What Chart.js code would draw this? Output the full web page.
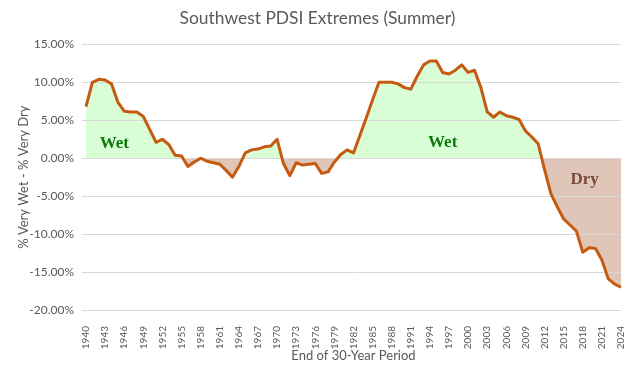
<!DOCTYPE html>
<html>
<head>
<meta charset="utf-8">
<script src="https://cdn.jsdelivr.net/npm/chart.js@4.4.1/dist/chart.umd.min.js"></script>
<style>
  body { margin: 0; background: #fff; }
  #wrap { width: 630px; height: 375px; }
</style>
</head>
<body>
<div id="wrap"><canvas id="pdsiChart" width="630" height="375"></canvas></div>
<script>
// end year of each 30-year period
const years = [];
for (let yr = 1940; yr <= 2024; yr++) years.push(String(yr));

// % very wet minus % very dry (in %)
const netWetDry = [
  6.8, 10.0, 10.4, 10.3, 9.8, 7.4, 6.2, 6.1, 6.1, 5.5,          // 1940-1949
  3.8, 2.1, 2.5, 1.8, 0.4, 0.3, -1.1, -0.5, 0.0, -0.4,          // 1950-1959
  -0.6, -0.8, -1.6, -2.5, -1.1, 0.7, 1.1, 1.2, 1.5, 1.6,        // 1960-1969
  2.5, -0.7, -2.3, -0.6, -0.9, -0.8, -0.7, -2.0, -1.8, -0.5,    // 1970-1979
  0.5, 1.1, 0.7, 3.0, 5.3, 7.7, 10.0, 10.0, 10.0, 9.8,          // 1980-1989
  9.3, 9.1, 10.8, 12.3, 12.8, 12.8, 11.3, 11.1, 11.6, 12.3,     // 1990-1999
  11.3, 11.6, 9.3, 6.1, 5.4, 6.1, 5.6, 5.4, 5.1, 3.6,           // 2000-2009
  2.8, 1.9, -1.5, -4.7, -6.4, -8.0, -8.8, -9.6, -12.4, -11.8,   // 2010-2019
  -11.9, -13.4, -15.9, -16.6, -17.0                             // 2020-2024
];

// y axis ticks
const yTicks = [-20, -15, -10, -5, 0, 5, 10, 15];

// in-chart labels: text, category index, value
const regionLabels = [
  ['Wet', 4.45, 1.9],
  ['Wet', 56.0, 2.0],
  ['Dry', 78.3, -2.8]
];

const gray = '#595959';

const overlay = {
  id: 'overlay',
  beforeDatasetsDraw(chart) {
    // gridlines sit on top of the shaded areas, under the line
    const { ctx, chartArea, scales } = chart;
    ctx.save();
    ctx.strokeStyle = '#d9d9d9';
    ctx.lineWidth = 1;
    yTicks.forEach(v => {
      const py = Math.round(scales.y.getPixelForValue(v)) + 0.5;
      ctx.beginPath();
      ctx.moveTo(chartArea.left, py);
      ctx.lineTo(chartArea.right, py);
      ctx.stroke();
    });
    ctx.restore();
  },
  afterDatasetsDraw(chart) {
    const { ctx, scales } = chart;
    ctx.save();
    ctx.font = 'bold 17px "Liberation Serif", "Times New Roman", serif';
    ctx.textAlign = 'center';
    ctx.textBaseline = 'middle';
    regionLabels.forEach(([txt, xi, yv]) => {
      ctx.fillStyle = txt === 'Wet' ? '#0a7a0a' : '#7a4a3a';
      ctx.fillText(txt, scales.x.getPixelForValue(xi), scales.y.getPixelForValue(yv));
    });
    ctx.restore();
  }
};

new Chart(document.getElementById('pdsiChart'), {
  type: 'line',
  data: {
    labels: years,
    datasets: [{
      data: netWetDry,
      borderColor: '#c55a11',
      borderWidth: 3,
      borderJoinStyle: 'round',
      pointRadius: 0,
      tension: 0,
      fill: { target: 'origin', above: '#d9fdd5', below: '#e0c6b9' }
    }]
  },
  options: {
    responsive: false,
    animation: false,
    layout: { padding: { left: 14, right: 9, top: 0, bottom: 0 } },
    plugins: {
      legend: { display: false },
      tooltip: { enabled: false },
      filler: { drawTime: 'beforeDatasetsDraw' },
      title: {
        display: true,
        text: 'Southwest PDSI Extremes (Summer)',
        color: gray,
        font: { family: 'Lato', size: 17.4, weight: 'normal' },
        padding: { top: 8, bottom: 15.5 }
      }
    },
    scales: {
      x: {
        grid: { display: false },
        border: { display: false },
        ticks: {
          autoSkip: false,
          minRotation: 90,
          maxRotation: 90,
          padding: 8,
          color: gray,
          font: { family: 'Lato', size: 10 },
          callback: (v, i) => (i % 3 === 0 ? years[i] : '')
        },
        title: {
          display: true,
          text: 'End of 30-Year Period',
          color: gray,
          font: { family: 'Lato', size: 13 },
          padding: { top: 4, bottom: 11 }
        },
        afterFit: s => {
          s.height = 65;
          s.paddingLeft = 0;
          s.paddingRight = 0;
        }
      },
      y: {
        min: -20,
        max: 15,
        afterBuildTicks: s => { s.ticks = yTicks.map(v => ({ value: v })); },
        ticks: {
          padding: 8,
          color: gray,
          font: { family: 'Lato', size: 12 },
          callback: v => v.toFixed(2) + '%'
        },
        grid: { color: '#d9d9d9', tickLength: 4 },
        border: { display: false },
        title: {
          display: true,
          text: '% Very Wet - % Very Dry',
          color: gray,
          font: { family: 'Lato', size: 13 },
          padding: { top: 2, bottom: 0 }
        },
        afterFit: s => { s.width = 72; }
      }
    }
  },
  plugins: [overlay]
});
</script>
</body>
</html>
